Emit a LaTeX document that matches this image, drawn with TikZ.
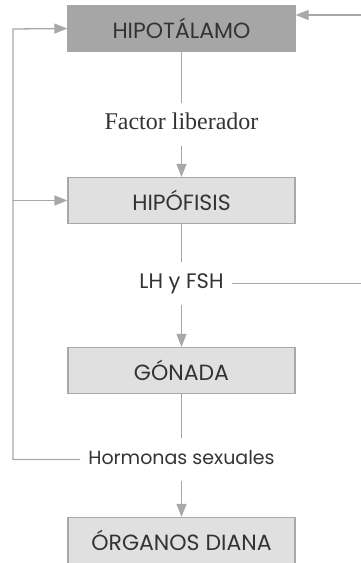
\documentclass[tikz,border=0pt]{standalone}
\usepackage{fontspec}
\setmainfont{Liberation Serif}
\newfontfamily\gothic{Poppins}
\usetikzlibrary{positioning, arrows.meta}
\definecolor{linegray}{HTML}{A8A8A8}
\definecolor{darkbox}{HTML}{A6A6A6}
\definecolor{lightbox}{HTML}{E0E0E0}
\tikzstyle{gland} = [rectangle, minimum width=227pt, minimum height=46pt, text centered, draw=linegray, line width=1.3pt, fill=lightbox, font=\gothic\fontsize{22}{24}\selectfont, text=black!80]
\tikzstyle{topgland} = [gland, fill=darkbox, draw=darkbox]
\tikzstyle{hormone} = [inner xsep=8pt, inner ysep=12pt, text height=14pt, text depth=4pt, font=\gothic\fontsize{19}{21}\selectfont, text=black!80]
\tikzstyle{arrow} = [line width=1.3pt, draw=linegray, -{Triangle[length=13pt,width=10pt]}, color=linegray]
\tikzstyle{link} = [line width=1.3pt, draw=linegray]

\begin{document}
\begin{tikzpicture}[x=1pt, y=-1pt, node distance=85pt]
        \useasboundingbox (0,0) rectangle (361,563);
        \node (hipotalamo) [topgland] at (181.5,28.5) {HIPOTÁLAMO};
        \node (factor) [hormone, font=\fontsize{24}{26}\selectfont, below of=hipotalamo, yshift=-11pt]{Factor liberador};
        \node (hipofisis) [gland, below of=factor, yshift=9pt]{HIPÓFISIS};
        \node (lhfsh) [hormone, font=\gothic\fontsize{21}{23}\selectfont, below of=hipofisis, yshift=2pt]{LH y FSH};
        \node (gonada) [gland, below of=lhfsh, yshift=-2pt]{GÓNADA};
        \node (sexuales) [hormone, below of=gonada, yshift=-4pt]{Hormonas sexuales};
        \node (diana) [gland, below of=sexuales, yshift=4pt]{ÓRGANOS DIANA};
        \coordinate (feedback) at (13,29);
        \coordinate (rightedge) at (361,0);
        \coordinate (righttop) at (361,15);

        \draw [link] (hipotalamo) -- (factor);
        \draw [arrow] (factor) -- (hipofisis);
        \draw [link] (hipofisis) -- (lhfsh);
        \draw [arrow] (lhfsh) -- (gonada);
        \draw [link] (gonada) -- (sexuales);
        \draw [arrow] (sexuales) -- (diana);
        \draw [arrow] (sexuales.west) -| (feedback) -- (hipotalamo.west);
        \draw [arrow] (feedback |- hipofisis.west) -- (hipofisis.west);
        \draw [link] (lhfsh.east) -- (lhfsh.east -| rightedge);
        \draw [arrow] (righttop) -- (hipotalamo.east |- righttop);

        \end{tikzpicture}
\end{document}
